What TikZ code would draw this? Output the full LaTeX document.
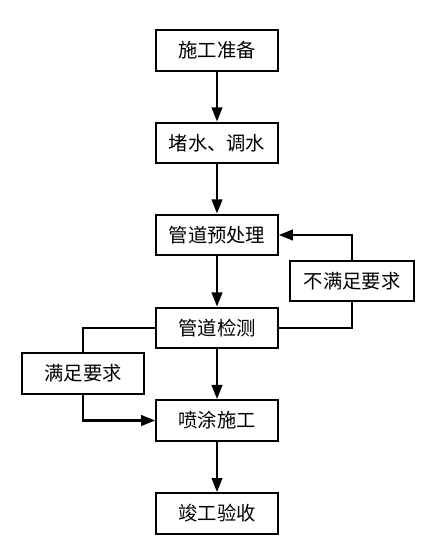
\documentclass[tikz,border=0pt]{standalone}
\usepackage{fontspec}
\setmainfont{Noto Sans CJK SC}
\usetikzlibrary{arrows.meta}

\begin{document}
\begin{tikzpicture}[
    x=0.03cm, y=-0.03cm,
    box/.style={rectangle, draw, line width=1.9pt, minimum width=3.64cm, minimum height=1.22cm, inner sep=0pt, font=\fontsize{16.5}{19}\selectfont},
    arrow/.style={-{Triangle[length=12pt, width=9pt]}, line width=1.9pt},
    link/.style={line width=1.9pt}
]
    \useasboundingbox (0,0) rectangle (434,560);
    % Main column - six steps top to bottom
    \node[box] (prep) at (217,50.5) {施工准备};
    \node[box] (plug) at (217,143) {堵水、调水};
    \node[box] (pre) at (217,235) {管道预处理};
    \node[box] (insp) at (217,328) {管道检测};
    \node[box] (spray) at (217,420.5) {喷涂施工};
    \node[box] (accept) at (217,513.5) {竣工验收};
    % Side boxes on the two branches
    \node[box, minimum width=3.7cm] (nofit) at (352,281) {不满足要求};
    \node[box] (fit) at (83,373.5) {满足要求};

    % Arrows
    \draw[arrow] (prep) -- (plug);
    \draw[arrow] (plug) -- (pre);
    \draw[arrow] (pre) -- (insp);
    \draw[arrow] (insp) -- (spray);
    \draw[arrow] (spray) -- (accept);
    % Loop back when the check fails
    \draw[link] (insp.east) -| (nofit.south);
    \draw[arrow] (nofit.north) |- (pre.east);
    % Go on when the check passes
    \draw[link] (insp.west) -| (fit.north);
    \draw[arrow] (fit.south) |- (spray.west);
\end{tikzpicture}
\end{document}
